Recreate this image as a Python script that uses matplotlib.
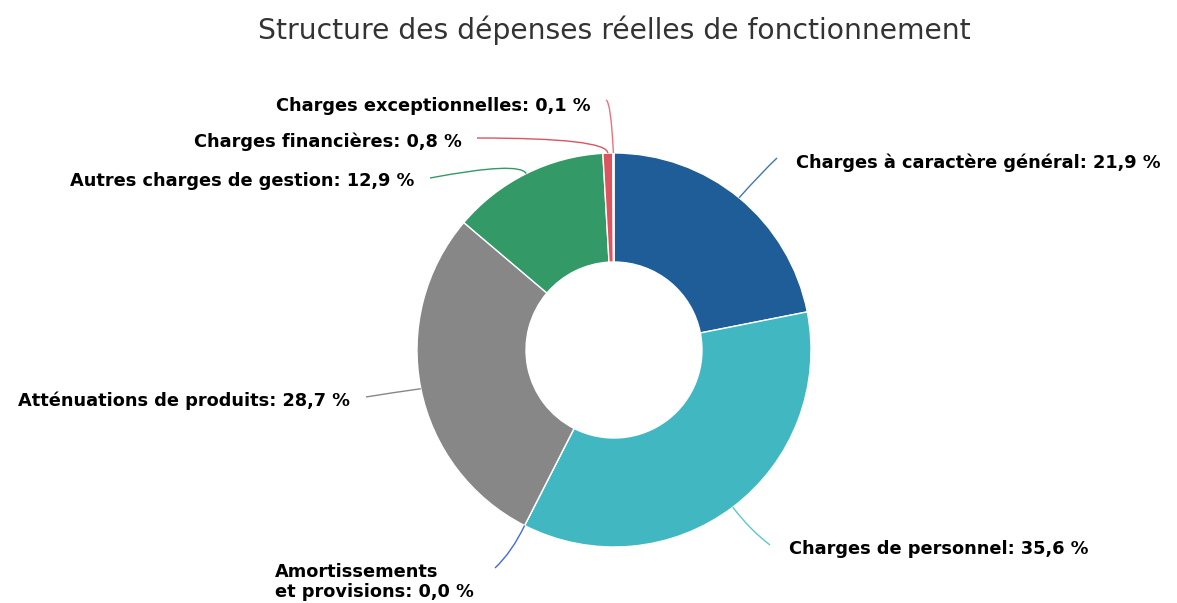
import matplotlib
matplotlib.use("Agg")
import matplotlib.pyplot as plt
import numpy as np
from matplotlib.path import Path
from matplotlib.patches import PathPatch

# ---------------- data ----------------
categories = [
    "Charges à caractère général",
    "Charges de personnel",
    "Amortissements\net provisions",
    "Atténuations de produits",
    "Autres charges de gestion",
    "Charges financières",
    "Charges exceptionnelles",
]
values = [21.9, 35.6, 0.0, 28.7, 12.9, 0.8, 0.1]
colors = ["#1f5d99", "#41b8c1", "#4169e1", "#878787", "#339966", "#dc5460", "#e8737f"]
line_colors = ["#3f78b5", "#5cc8cf", "#4169e1", "#878787", "#339966", "#dc5460", "#e8737f"]
title = "Structure des dépenses réelles de fonctionnement"

# ---------------- layout (pixels) ----------------
W, H = 1177, 603
cx, cy = 614, 350
R_out, R_in = 197, 88
# label anchors (x, y, ha) and connector elbow / end points (pixel space)
label_pos = [(796, 163, "left"), (789, 549, "left"), (275, 582, "left"),
             (350, 401, "right"), (414, 181, "right"), (462, 142, "right"),
             (591, 106, "right")]
elbows = [(762, 172), (750, 530), (512, 552), (390, 393), (520, 161), (607, 138), (611, 102)]
ends = [(777, 158), (770, 545), (495, 568), (366, 397), (430, 178), (477, 138), (606, 100)]

fig = plt.figure(figsize=(W / 100, H / 100), dpi=100)
ax = fig.add_axes([0, 0, 1, 1])


def Y(y):
    return H - y


wedges, _ = ax.pie(values, colors=colors, startangle=90, counterclock=False,
                   radius=R_out, center=(cx, Y(cy)),
                   wedgeprops=dict(width=R_out - R_in, edgecolor="white", linewidth=1.0))
ax.set_xlim(0, W)
ax.set_ylim(0, H)
ax.set_aspect("equal")
ax.axis("off")

total = sum(values)
cum = 0.0
for i, v in enumerate(values):
    mid = 90 - (cum + v / 2) / total * 360
    cum += v
    a = np.deg2rad(mid)
    sx, sy = cx + R_out * np.cos(a), cy - R_out * np.sin(a)
    ex, ey = elbows[i]
    tx, ty = ends[i]
    path = Path([(sx, Y(sy)), (ex, Y(ey)), (tx, Y(ty))],
                [Path.MOVETO, Path.CURVE3, Path.CURVE3])
    ax.add_patch(PathPatch(path, fill=False, edgecolor=line_colors[i], linewidth=1.0))
    lx, ly, ha = label_pos[i]
    pct = f"{v:.1f}".replace(".", ",")
    ax.text(lx, Y(ly), f"{categories[i]}: {pct} %", ha=ha, va="center",
            fontsize=12.8, fontweight="bold", color="#000000", family="DejaVu Sans",
            linespacing=1.15)

fig.text(614 / W, 1 - 30 / H, title, ha="center", va="center", fontsize=20.3,
         color="#333333", family="DejaVu Sans")

fig.savefig("out.png", dpi=100)
